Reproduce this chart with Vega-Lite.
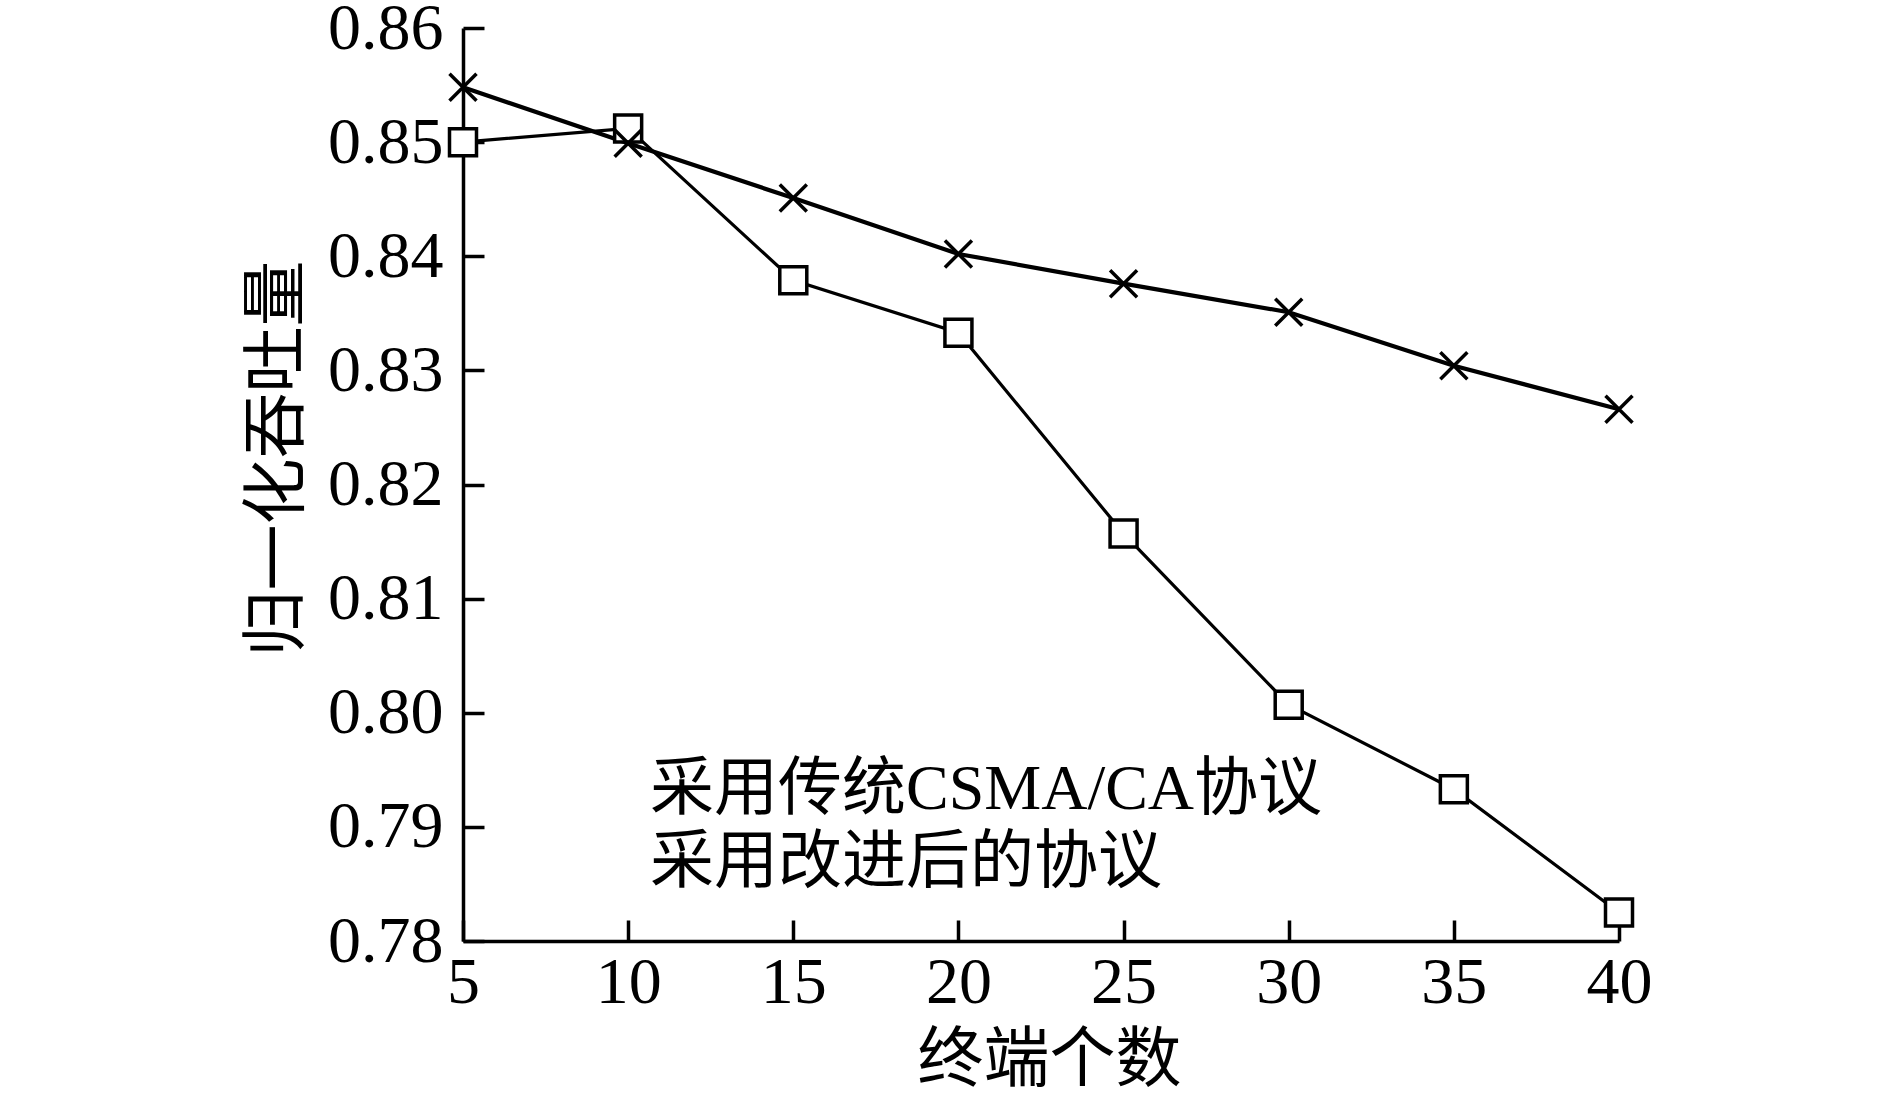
{
  "$schema": "https://vega.github.io/schema/vega-lite/v6.json",
  "width": 1156,
  "height": 913,
  "autosize": {"type": "none"},
  "padding": {"left": 463, "top": 28, "right": 270, "bottom": 153},
  "background": "white",
  "config": {
    "view": {"stroke": null},
    "axis": {
      "domainColor": "black",
      "domainWidth": 3.5,
      "tickColor": "black",
      "tickWidth": 3.5,
      "tickSize": -21,
      "labelFont": "Liberation Serif",
      "labelFontSize": 66,
      "labelColor": "black",
      "grid": false,
      "titleFont": "Liberation Serif, Noto Sans CJK SC",
      "titleFontSize": 66,
      "titleFontWeight": "normal",
      "titleColor": "black",
      "labelFlush": false,
      "labelOverlap": false
    }
  },
  "data": {
    "values": [
      {"n": 5, "s": "采用传统CSMA/CA协议", "v": 0.8500},
      {"n": 10, "s": "采用传统CSMA/CA协议", "v": 0.8512},
      {"n": 15, "s": "采用传统CSMA/CA协议", "v": 0.8379},
      {"n": 20, "s": "采用传统CSMA/CA协议", "v": 0.8333},
      {"n": 25, "s": "采用传统CSMA/CA协议", "v": 0.8157},
      {"n": 30, "s": "采用传统CSMA/CA协议", "v": 0.8007},
      {"n": 35, "s": "采用传统CSMA/CA协议", "v": 0.7933},
      {"n": 40, "s": "采用传统CSMA/CA协议", "v": 0.7825},
      {"n": 5, "s": "采用改进后的协议", "v": 0.8548},
      {"n": 10, "s": "采用改进后的协议", "v": 0.8499},
      {"n": 15, "s": "采用改进后的协议", "v": 0.8451},
      {"n": 20, "s": "采用改进后的协议", "v": 0.8402},
      {"n": 25, "s": "采用改进后的协议", "v": 0.8376},
      {"n": 30, "s": "采用改进后的协议", "v": 0.8351},
      {"n": 35, "s": "采用改进后的协议", "v": 0.8304},
      {"n": 40, "s": "采用改进后的协议", "v": 0.8266}
    ]
  },
  "encoding": {
    "x": {
      "field": "n",
      "type": "quantitative",
      "scale": {"domain": [5, 40], "nice": false, "zero": false},
      "axis": {
        "values": [5, 10, 15, 20, 25, 30, 35, 40],
        "labelPadding": 30,
        "title": "终端个数",
        "titleX": 586,
        "titleY": 119,
        "titleBaseline": "middle",
        "titleAlign": "center"
      }
    },
    "y": {
      "field": "v",
      "type": "quantitative",
      "scale": {"domain": [0.78, 0.86], "nice": false, "zero": false},
      "axis": {
        "values": [0.78, 0.79, 0.80, 0.81, 0.82, 0.83, 0.84, 0.85, 0.86],
        "format": ".2f",
        "labelPadding": 41,
        "title": "归一化吞吐量",
        "titleX": -186,
        "titleY": 430,
        "titleAngle": -90,
        "titleBaseline": "middle",
        "titleAlign": "center"
      }
    }
  },
  "layer": [
    {
      "transform": [{"filter": "datum.s === '采用传统CSMA/CA协议'"}],
      "mark": {"type": "line", "color": "black", "strokeWidth": 3.2},
      "encoding": {}
    },
    {
      "transform": [{"filter": "datum.s === '采用改进后的协议'"}],
      "mark": {"type": "line", "color": "black", "strokeWidth": 4.2},
      "encoding": {}
    },
    {
      "mark": {"type": "point", "filled": true, "fill": "white", "stroke": "black", "strokeWidth": 3.5, "size": 729, "opacity": 1},
      "encoding": {
        "shape": {
          "field": "s",
          "type": "nominal",
          "scale": {
            "domain": ["采用传统CSMA/CA协议", "采用改进后的协议"],
            "range": ["M-1,-1H1V1H-1Z", "M-1,-1L1,1M-1,1L1,-1"]
          },
          "legend": {
            "title": null,
            "orient": "none",
            "legendX": 71,
            "legendY": 730,
            "padding": 0,
            "labelFont": "Liberation Serif, Noto Sans CJK SC",
            "labelFontSize": 64,
            "labelColor": "black",
            "labelOffset": 52,
            "labelLimit": 1000,
            "symbolSize": 729,
            "symbolStrokeWidth": 4,
            "symbolStrokeColor": "black",
            "symbolFillColor": "white",
            "symbolOpacity": 1,
            "rowPadding": 9,
            "encode": {
              "symbols": {
                "shape": {"value": {"expr": "datum.value === '采用传统CSMA/CA协议' ? 'M-4,0H-1M1,0H4M-1,-1H1V1H-1Z' : 'M-4,0H4M-1,-1L1,1M-1,1L1,-1'"}},
                "fill": {"value": "white"},
                "stroke": {"value": "black"},
                "strokeWidth": {"value": 4},
                "opacity": {"value": 1}
              }
            }
          }
        }
      }
    }
  ]
}
